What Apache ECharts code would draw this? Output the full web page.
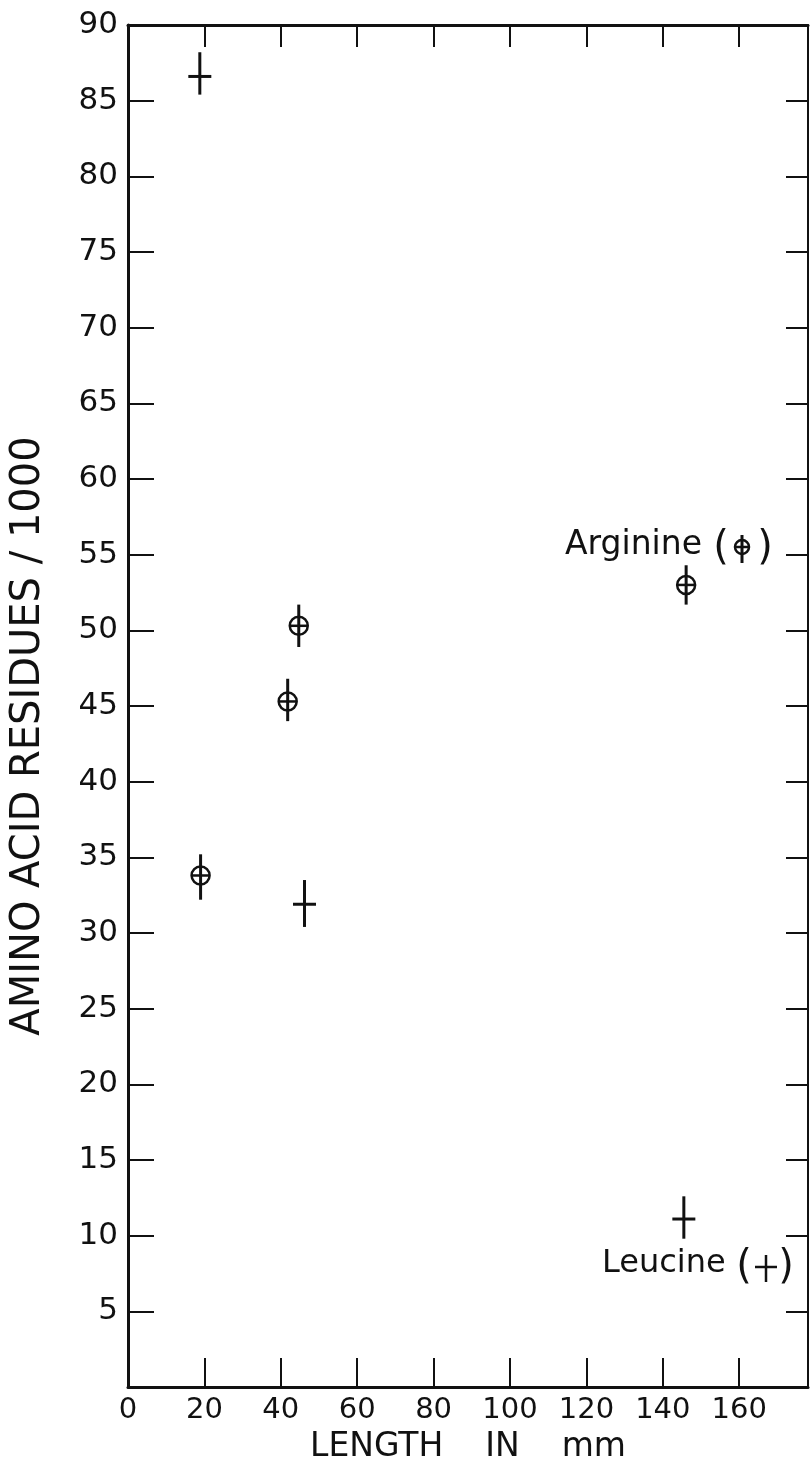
<!DOCTYPE html>
<html>
<head>
<meta charset="utf-8">
<script src="https://cdn.jsdelivr.net/npm/echarts@6/dist/echarts.min.js"></script>
<style>
  html, body { margin: 0; padding: 0; background: #fff; }
  #chart { width: 810px; height: 1463px; }
</style>
</head>
<body>
<div id="chart"></div>
<script>
// Leucine residues (+): length in mm, value, lower and upper end of the bar
const leucineLength = [18.8, 46.2, 145.5];
const leucineValue  = [86.6, 31.9, 11.1];
const leucineLow    = [85.4, 30.4, 9.8];
const leucineHigh   = [88.2, 33.5, 12.6];

// Arginine residues (circled +)
const arginineLength = [19.0, 41.8, 44.7, 146.1];
const arginineValue  = [33.8, 45.3, 50.3, 53.0];
const arginineLow    = [32.2, 44.0, 48.9, 51.7];
const arginineHigh   = [35.2, 46.8, 51.7, 54.3];

const xTitle = 'LENGTH    IN    mm';
const yTitle = 'AMINO ACID RESIDUES / 1000';

const INK = '#111';
const FONT = 'DejaVu Sans';

function rows(xs, ys, lo, hi) {
  return xs.map((x, i) => [x, ys[i], lo[i], hi[i]]);
}

// Draws a vertical range bar crossed by a short bar; circled for arginine
function glyph(circled) {
  return function (params, api) {
    const c = api.coord([api.value(0), api.value(1)]);
    const lo = api.coord([api.value(0), api.value(2)]);
    const hi = api.coord([api.value(0), api.value(3)]);
    const children = [{
      type: 'line',
      shape: { x1: c[0], y1: hi[1], x2: c[0], y2: lo[1] },
      style: { stroke: INK, lineWidth: 3 }
    }];
    if (circled) {
      children.push({
        type: 'circle',
        shape: { cx: c[0], cy: c[1], r: 9 },
        style: { fill: 'none', stroke: INK, lineWidth: 2.5 }
      });
      children.push({
        type: 'line',
        shape: { x1: c[0] - 9, y1: c[1], x2: c[0] + 9, y2: c[1] },
        style: { stroke: INK, lineWidth: 2.5 }
      });
    } else {
      children.push({
        type: 'line',
        shape: { x1: c[0] - 11.5, y1: c[1], x2: c[0] + 11.5, y2: c[1] },
        style: { stroke: INK, lineWidth: 3 }
      });
    }
    return { type: 'group', children };
  };
}

const chart = echarts.init(document.getElementById('chart'), null, { renderer: 'canvas' });

const baseX = { type: 'value', min: 0, max: 178, interval: 20, splitLine: { show: false } };
const baseY = { type: 'value', min: 0, max: 90, interval: 5, splitLine: { show: false } };

function txt(x, y, text, size, align) {
  return {
    type: 'text', x: x, y: y, silent: true,
    style: {
      text: text, fill: INK,
      font: size + 'px "' + FONT + '"',
      align: align || 'left', verticalAlign: 'middle'
    }
  };
}

chart.setOption({
  backgroundColor: '#fff',
  animation: false,
  grid: { left: 128, top: 25, width: 680, height: 1362, outerBoundsMode: 'none' },
  xAxis: [
    Object.assign({}, baseX, {
      position: 'bottom',
      name: xTitle,
      nameLocation: 'middle',
      nameGap: 44,
      nameTextStyle: { fontFamily: FONT, fontSize: 33, color: INK },
      axisLine: { onZero: false, lineStyle: { color: INK, width: 3 } },
      axisTick: { inside: true, length: 29, lineStyle: { color: INK, width: 2 } },
      axisLabel: { fontFamily: FONT, fontSize: 29, color: INK, margin: 9, showMaxLabel: false }
    }),
    Object.assign({}, baseX, {
      position: 'top',
      axisLine: { onZero: false, lineStyle: { color: INK, width: 3 } },
      axisTick: { inside: true, length: 22, lineStyle: { color: INK, width: 2 } },
      axisLabel: { show: false }
    })
  ],
  yAxis: [
    Object.assign({}, baseY, {
      position: 'left',
      axisLine: { onZero: false, lineStyle: { color: INK, width: 3 } },
      axisTick: { inside: true, length: 26, lineStyle: { color: INK, width: 2 } },
      axisLabel: { fontFamily: FONT, fontSize: 31, color: INK, margin: 10, showMinLabel: false }
    }),
    Object.assign({}, baseY, {
      position: 'right',
      axisLine: { onZero: false, lineStyle: { color: INK, width: 2 } },
      axisTick: { inside: true, length: 22, lineStyle: { color: INK, width: 2 } },
      axisLabel: { show: false }
    })
  ],
  series: [
    {
      name: 'Leucine',
      type: 'custom',
      xAxisIndex: 0, yAxisIndex: 0,
      renderItem: glyph(false),
      data: rows(leucineLength, leucineValue, leucineLow, leucineHigh)
    },
    {
      name: 'Arginine',
      type: 'custom',
      xAxisIndex: 0, yAxisIndex: 0,
      renderItem: glyph(true),
      data: rows(arginineLength, arginineValue, arginineLow, arginineHigh)
    }
  ],
  graphic: [
    // vertical axis title
    {
      type: 'text', x: 29, y: 736, rotation: Math.PI / 2, silent: true,
      style: {
        text: yTitle, fill: INK, font: '40px "' + FONT + '"',
        align: 'center', verticalAlign: 'middle'
      }
    },
    // Arginine key
    txt(565, 545, 'Arginine', 33),
    txt(721, 549, '(', 40, 'center'),
    txt(765, 549, ')', 40, 'center'),
    { type: 'circle', shape: { cx: 742, cy: 547, r: 7 }, style: { fill: 'none', stroke: INK, lineWidth: 2.5 } },
    { type: 'line', shape: { x1: 735, y1: 547, x2: 749, y2: 547 }, style: { stroke: INK, lineWidth: 2.5 } },
    { type: 'line', shape: { x1: 742, y1: 535, x2: 742, y2: 563 }, style: { stroke: INK, lineWidth: 3 } },
    // Leucine key
    txt(602, 1264, 'Leucine', 32),
    txt(744, 1268, '(', 40, 'center'),
    txt(786, 1268, ')', 40, 'center'),
    { type: 'line', shape: { x1: 755, y1: 1267, x2: 777, y2: 1267 }, style: { stroke: INK, lineWidth: 2.5 } },
    { type: 'line', shape: { x1: 766, y1: 1255, x2: 766, y2: 1282 }, style: { stroke: INK, lineWidth: 2.5 } }
  ]
});
</script>
</body>
</html>
